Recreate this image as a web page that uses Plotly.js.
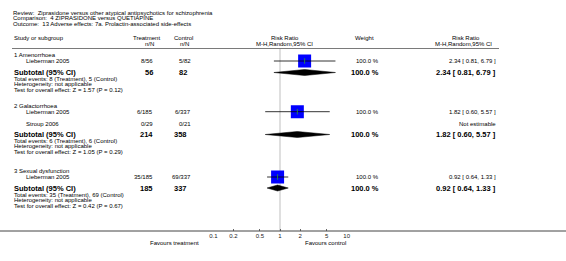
<!DOCTYPE html>
<html><head><meta charset="utf-8">
<script src="https://cdn.plot.ly/plotly-3.0.1.min.js"></script>
<style>html,body{margin:0;padding:0;background:#fff;}#chart{width:566px;height:261px;}</style>
</head><body><div id="chart"></div>
<script>
// ---------------- data ----------------
const reviewTitle = "Ziprasidone versus other atypical antipsychotics for schizophrenia";
const comparisonTitle = "4 ZIPRASIDONE versus QUETIAPINE";
const outcomeTitle = "13 Adverse effects: 7a. Prolactin-associated side-effects";
const subgroups = ["1 Amenorrhoea", "2 Galactorrhoea", "3 Sexual dysfunction"];
const studyNames = ["Lieberman 2005", "Lieberman 2005", "Stroup 2006", "Lieberman 2005"];
const studySubgroup = [0, 1, 1, 2];
const treatEvents = [8, 6, 0, 35];
const treatTotal = [56, 185, 29, 185];
const ctrlEvents = [5, 6, 0, 69];
const ctrlTotal = [82, 337, 21, 337];
const studyRR = [2.34, 1.82, null, 0.92];
const studyLow = [0.81, 0.60, null, 0.64];
const studyHigh = [6.79, 5.57, null, 1.33];
const studyWeight = [100.0, 100.0, null, 100.0];
const subRR = [2.34, 1.82, 0.92];
const subLow = [0.81, 0.60, 0.64];
const subHigh = [6.79, 5.57, 1.33];
const subWeight = [100.0, 100.0, 100.0];
const subTreatTotal = [56, 214, 185];
const subCtrlTotal = [82, 358, 337];
const subTreatEvents = [8, 6, 35];
const subCtrlEvents = [5, 6, 69];
const subZ = [1.57, 1.05, 0.42];
const subP = [0.12, 0.29, 0.67];
const tickValues = [0.1, 0.2, 0.5, 1, 2, 5, 10];
const tickLabels = ["0.1", "0.2", "0.5", "1", "2", "5", "10"];
const favoursLeft = "Favours treatment";
const favoursRight = "Favours control";

// ---------------- layout (pixel positions) ----------------
const W = 566, H = 261;
const FONT = "Liberation Sans, Arial, sans-serif";
const rowY = {
  subgroupHeader: [55, 106, 171.3],
  study: [61, 111.7, 124.3, 177],
  subtotal: [72.5, 134.5, 188],
  totalEvents: [78.5, 140.5, 194.5],
  heterogeneity: [84.3, 146.3, 200.3],
  test: [90.3, 152.3, 206.3]
};
const col = { name: 12.5, study: 25, treat: 153.5, ctrl: 191.5, weight: 380, rr: 496.5 };
const axisY = 231, headerLineY = 48.5;
const NORMAL = 6, BOLD = 7.5;

const annotations = [];
function ann(text, xpx, ypx, anchor, size, color) {
  annotations.push({
    text: text, xref: 'paper', yref: 'y', x: xpx / W, y: ypx,
    xanchor: anchor, yanchor: 'middle', showarrow: false, borderpad: 0,
    font: { family: FONT, size: size || NORMAL, color: color || '#000' }
  });
}
const nb = s => s.replace(/ {2}/g, '\u00a0\u00a0');
const fmtCI = (r, l, h) => `${r.toFixed(2)} [ ${l.toFixed(2)}, ${h.toFixed(2)} ]`;

// titles
ann(nb("Review:  " + reviewTitle), 12, 12.7, 'left');
ann(nb("Comparison:  " + comparisonTitle), 12, 18.3, 'left');
ann(nb("Outcome:  " + outcomeTitle), 12, 24, 'left');
// column headers
ann("Study or subgroup", col.name, 37.5, 'left');
ann("Treatment", 146.5, 37.5, 'center');
ann("n/N", 149, 43.5, 'center');
ann("Control", 183.5, 37.5, 'center');
ann("n/N", 184, 43.5, 'center');
ann("Risk Ratio", 285, 37.5, 'center');
ann("M-H,Random,95% CI", 284, 43.5, 'center');
ann("Weight", 364, 37.5, 'center');
ann("Risk Ratio", 466, 37.5, 'center');
ann("M-H,Random,95% CI", 463, 43.5, 'center');

// subgroups
subgroups.forEach((g, i) => {
  ann(g, col.name, rowY.subgroupHeader[i], 'left');
  ann("<b>Subtotal (95% CI)</b>", col.name, rowY.subtotal[i], 'left', BOLD);
  ann("<b>" + subTreatTotal[i] + "</b>", col.treat, rowY.subtotal[i], 'right', BOLD);
  ann("<b>" + subCtrlTotal[i] + "</b>", col.ctrl - 4, rowY.subtotal[i], 'right', BOLD);
  ann("<b>" + subWeight[i].toFixed(1) + " %</b>", col.weight, rowY.subtotal[i], 'right', BOLD);
  ann("<b>" + fmtCI(subRR[i], subLow[i], subHigh[i]) + "</b>", col.rr, rowY.subtotal[i], 'right', BOLD);
  ann(`Total events: ${subTreatEvents[i]} (Treatment), ${subCtrlEvents[i]} (Control)`, col.name, rowY.totalEvents[i], 'left');
  ann("Heterogeneity: not applicable", col.name, rowY.heterogeneity[i], 'left');
  ann(`Test for overall effect: Z = ${subZ[i].toFixed(2)} (P = ${subP[i].toFixed(2)})`, col.name, rowY.test[i], 'left');
});
// studies
studyNames.forEach((s, i) => {
  const y = rowY.study[i];
  ann(s, col.study, y, 'left');
  ann(`${treatEvents[i]}/${treatTotal[i]}`, col.treat, y, 'right');
  ann(`${ctrlEvents[i]}/${ctrlTotal[i]}`, col.ctrl, y, 'right');
  if (studyRR[i] !== null) {
    ann(studyWeight[i].toFixed(1) + " %", col.weight, y, 'right');
    ann(fmtCI(studyRR[i], studyLow[i], studyHigh[i]), col.rr, y, 'right');
  } else {
    ann("Not estimable", col.rr, y, 'right');
  }
});
ann(favoursLeft, 200, 242.5, 'right');
ann(favoursRight, 304, 242.5, 'left');

// ---------------- traces ----------------
const traces = [];
const est = [], estY = [];
studyRR.forEach((r, i) => { if (r !== null) { est.push(r); estY.push(rowY.study[i]); } });
traces.push({
  type: 'scatter', mode: 'markers', x: est, y: estY, hoverinfo: 'skip',
  marker: { symbol: 'square', size: 13, color: '#0000ff', line: { width: 0 } }
});
const lx = [], ly = [];
studyRR.forEach((r, i) => {
  if (r !== null) { lx.push(studyLow[i], studyHigh[i], null); ly.push(rowY.study[i], rowY.study[i], null); }
});
traces.push({ type: 'scatter', mode: 'lines', x: lx, y: ly, hoverinfo: 'skip', line: { color: '#000', width: 0.8 } });
traces.push({
  type: 'scatter', mode: 'markers', x: est, y: estY, hoverinfo: 'skip',
  marker: { symbol: 'line-ns-open', size: 4, line: { color: '#000', width: 0.8 } }
});
const dh = 3;
subRR.forEach((r, i) => {
  const y = rowY.subtotal[i];
  traces.push({
    type: 'scatter', mode: 'lines', fill: 'toself', fillcolor: '#000', hoverinfo: 'skip',
    x: [subLow[i], r, subHigh[i], r, subLow[i]],
    y: [y, y - dh, y, y + dh, y],
    line: { color: '#000', width: 0.5 }
  });
});

const layout = {
  width: W, height: H, margin: { l: 0, r: 0, t: 0, b: 0, pad: 0 },
  paper_bgcolor: '#fff', plot_bgcolor: 'rgba(0,0,0,0)', showlegend: false,
  xaxis: {
    type: 'log', range: [-1, 1], domain: [213.33 / W, 346.67 / W],
    anchor: 'free', position: (H - axisY) / H, showline: false,
    ticks: 'inside', ticklen: 2, tickwidth: 0.8, tickcolor: '#444',
    tickmode: 'array', tickvals: tickValues, ticktext: tickLabels,
    tickfont: { family: FONT, size: NORMAL, color: '#222' },
    showgrid: false, zeroline: false, fixedrange: true
  },
  yaxis: { range: [H, 0], domain: [0, 1], visible: false, fixedrange: true },
  shapes: [
    { type: 'line', xref: 'x', yref: 'y', x0: 1, x1: 1, y0: headerLineY + 0.5, y1: axisY, layer: 'below',
      line: { color: '#d4d4d4', width: 1.5 } },
    { type: 'line', xref: 'paper', yref: 'y', x0: 12 / W, x1: 499 / W, y0: headerLineY, y1: headerLineY,
      line: { color: '#7a7a7a', width: 1 } },
    { type: 'line', xref: 'paper', yref: 'y', x0: 0, x1: 1, y0: axisY, y1: axisY,
      line: { color: '#444', width: 1 } }
  ],
  annotations: annotations
};
Plotly.newPlot('chart', traces, layout, { staticPlot: true, displayModeBar: false });
</script></body></html>
